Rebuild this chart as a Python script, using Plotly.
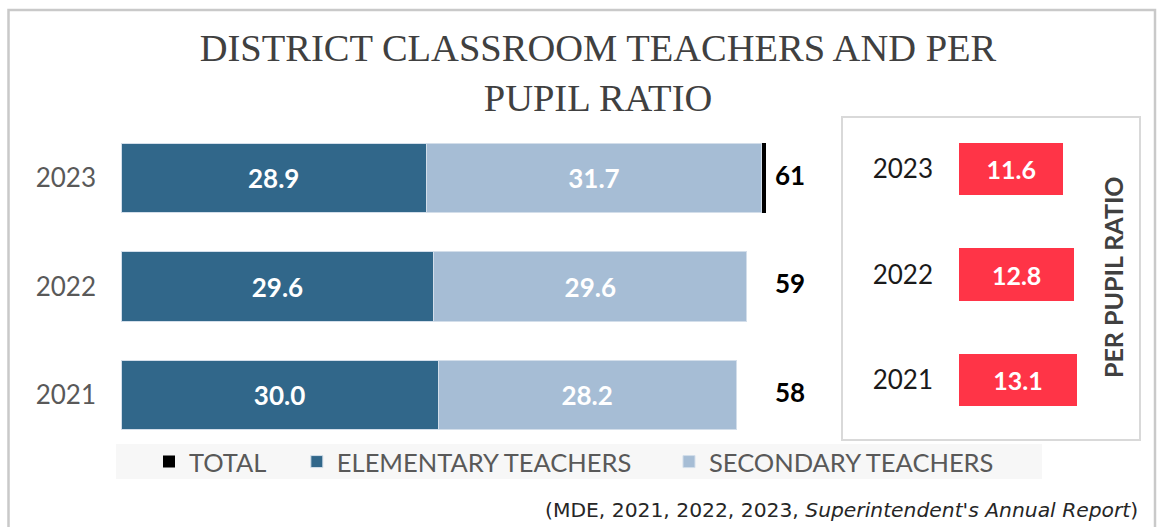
import plotly.graph_objects as go

# ---------------- data ----------------
years = ["2023", "2022", "2021"]
elementary = [28.9, 29.6, 30.0]
secondary = [31.7, 29.6, 28.2]
ratio = [11.6, 12.8, 13.1]
legend_names = ["TOTAL", "ELEMENTARY TEACHERS", "SECONDARY TEACHERS"]
title_text = "DISTRICT CLASSROOM TEACHERS AND PER<br>PUPIL RATIO"
source_text = "(MDE, 2021, 2022, 2023, <i>Superintendent's Annual Report</i>)"
ratio_title = "PER PUPIL RATIO"

totals = [e + s for e, s in zip(elementary, secondary)]
total_text = [f"{t:.0f}" for t in totals]

W, H = 1159, 527
def px(x):
    return x / W
def py(y):
    return 1 - y / H

C_ELEM = "#31678A"
C_SEC = "#A6BDD5"
C_RED = "#FF3447"
EDGE = "#D3DEEA"
FONT = "Lato"
NB = "\u00a0"

fig = go.Figure()

# elementary segment
fig.add_trace(go.Bar(
    y=years, x=elementary, orientation="h", name=legend_names[1] + NB * 5,
    marker=dict(color=C_ELEM, line=dict(color=EDGE, width=1)),
    texttemplate="%{x:.1f}", textposition="inside", insidetextanchor="middle",
    textfont=dict(family=FONT, size=26, color="white", weight="bold"),
    width=0.645, legendrank=2, xaxis="x", yaxis="y",
))
# secondary segment
fig.add_trace(go.Bar(
    y=years, x=secondary, orientation="h", name=legend_names[2],
    marker=dict(color=C_SEC, line=dict(color=EDGE, width=1)),
    texttemplate="%{x:.1f}", textposition="inside", insidetextanchor="middle",
    textfont=dict(family=FONT, size=26, color="white", weight="bold"),
    width=0.645, legendrank=3, xaxis="x", yaxis="y",
))
# total marker (thin black cap, only drawn on the latest year as in the source)
cap = [0.42 if y == "2023" else 0 for y in years]
fig.add_trace(go.Bar(
    y=years, x=cap, orientation="h", name=legend_names[0] + NB * 4,
    marker=dict(color="black", line=dict(width=0)),
    width=0.645, legendrank=1, xaxis="x", yaxis="y", hoverinfo="skip",
))
# total labels
fig.add_trace(go.Scatter(
    y=years, x=[63.3] * len(years), mode="text", text=total_text,
    textposition="middle center",
    textfont=dict(family=FONT, size=26, color="black", weight="bold"),
    showlegend=False, xaxis="x", yaxis="y",
))

# per pupil ratio bars
fig.add_trace(go.Bar(
    y=years, x=ratio, orientation="h", marker=dict(color=C_RED, line=dict(width=0)),
    texttemplate="%{x:.1f}", textposition="inside", insidetextanchor="middle",
    textfont=dict(family=FONT, size=25, color="white", weight="bold"),
    width=0.493, showlegend=False, xaxis="x2", yaxis="y2",
))

fig.update_layout(
    width=W, height=H, margin=dict(l=0, r=0, t=0, b=0),
    paper_bgcolor="white", plot_bgcolor="rgba(0,0,0,0)",
    barmode="stack", bargap=0.355,
    showlegend=True,
    title=dict(text=title_text, x=px(598), xanchor="center", y=py(61), yanchor="middle",
               yref="container",
               font=dict(family="Liberation Serif", size=38.5, color="#404040")),
    xaxis=dict(domain=[px(121), px(808)], range=[0, 65], visible=False, fixedrange=True),
    yaxis=dict(domain=[py(449.25), py(123.75)], type="category",
               categoryorder="array", categoryarray=["2021", "2022", "2023"],
               range=[-0.5, 2.5], showgrid=False, zeroline=False, showline=False,
               ticks="", ticklabelstandoff=24,
               tickfont=dict(family=FONT, size=26, color="#595959")),
    xaxis2=dict(domain=[px(959), px(1094)], range=[0, 15], visible=False,
                anchor="y2", fixedrange=True),
    yaxis2=dict(domain=[py(432.75), py(116.25)], type="category", anchor="x2",
                categoryorder="array", categoryarray=["2021", "2022", "2023"],
                range=[-0.5, 2.5], showgrid=False, zeroline=False, showline=False,
                ticks="", ticklabelstandoff=25,
                tickfont=dict(family=FONT, size=26, color="#1a1a1a")),
    legend=dict(orientation="h", x=px(149), xanchor="left", y=py(462), yanchor="middle",
                bgcolor="rgba(0,0,0,0)", borderwidth=0,
                font=dict(family=FONT, size=25.5, color="#595959"),
                traceorder="normal"),
)

shapes = [
    # outer frame
    dict(type="rect", xref="paper", yref="paper", x0=px(8.5), x1=px(1155), y0=py(540), y1=py(10),
         line=dict(color="#C9C9C9", width=2.5), fillcolor="rgba(0,0,0,0)", layer="below"),
    # legend background
    dict(type="rect", xref="paper", yref="paper", x0=px(116), x1=px(1042), y0=py(479), y1=py(444),
         line=dict(width=0), fillcolor="#F7F7F7", layer="below"),
    # ratio panel frame
    dict(type="rect", xref="paper", yref="paper", x0=px(842), x1=px(1140), y0=py(440), y1=py(117),
         line=dict(color="#D9D9D9", width=2), fillcolor="rgba(0,0,0,0)", layer="below"),
]
fig.update_layout(shapes=shapes)

fig.add_annotation(text=ratio_title, textangle=-90, x=px(1113), y=py(277),
                   xref="paper", yref="paper", showarrow=False,
                   xanchor="center", yanchor="middle",
                   font=dict(family=FONT, size=25, color="#404040", weight="bold"))
fig.add_annotation(text=source_text, x=px(1140), y=py(510), xref="paper", yref="paper",
                   showarrow=False, xanchor="right", yanchor="middle",
                   font=dict(family="DejaVu Sans", size=20.3, color="#262626"))

fig.write_html("out.html", config={"displayModeBar": False},
               post_script="document.body.style.margin='0';document.body.style.overflow='hidden';")
